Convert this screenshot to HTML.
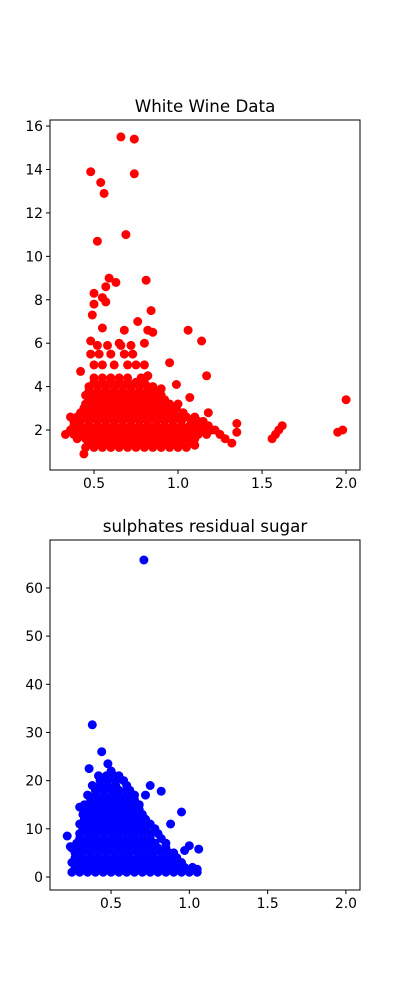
<!DOCTYPE html>
<html><head><meta charset="utf-8"><style>
body{margin:0;background:#fff;}
svg text{font-family:"DejaVu Sans","Liberation Sans",sans-serif;}
</style></head><body>
<svg id="chart" width="400" height="1000" xmlns="http://www.w3.org/2000/svg">
<rect width="400" height="1000" fill="#fff"/>
</svg>
<script>
// ---- Top chart data ----
const redOutX = [0.66,0.74,0.48,0.54,0.56,0.74,0.69,0.52,0.59,0.63,0.81,0.57,0.50,0.55,0.84,0.49,0.76,0.57,0.50,0.55,0.68,0.82,1.06,1.14,0.48,0.65,0.80,0.95,1.17,0.42,0.82,0.99,1.07,1.18,1.35,1.35,1.32,1.56,1.60,1.62,1.58,1.95,1.98,2.00,0.33,0.36,0.44,1.25,1.28,1.22,1.10,1.12,0.85,0.90];
const redOutY = [15.5,15.4,13.9,13.4,12.9,13.8,11.0,10.7,9.0,8.8,8.9,8.6,8.3,8.1,7.5,7.3,7.0,7.9,7.8,6.7,6.6,6.6,6.6,6.1,6.1,6.0,6.0,5.1,4.5,4.7,4.5,4.1,3.5,2.8,2.3,1.9,1.4,1.6,2.0,2.2,1.8,1.9,2.0,3.4,1.8,2.6,0.9,1.8,1.6,2.0,1.3,2.4,6.5,3.9];
const redRowY = [1.2,1.4,1.6,1.8,2.0,2.2,2.4,2.6,2.8,3.0,3.2,3.4,3.6,3.8,4.0,4.2,4.4,5.0,5.5,5.9];
const redRowX = [
 [0.45,0.5,0.55,0.6,0.65,0.7,0.75,0.8,0.85,0.9,0.95,1.0,1.05],
 [0.47,0.52,0.57,0.62,0.67,0.72,0.77,0.82,0.87,0.92,0.97,1.02,1.07],
 [0.40,0.45,0.5,0.55,0.6,0.65,0.7,0.75,0.8,0.85,0.9,0.95,1.0,1.05,1.1],
 [0.38,0.42,0.47,0.52,0.57,0.62,0.67,0.72,0.77,0.82,0.87,0.92,0.97,1.02,1.07,1.12,1.17],
 [0.36,0.4,0.45,0.5,0.55,0.6,0.65,0.7,0.75,0.8,0.85,0.9,0.95,1.0,1.05,1.1,1.15,1.2],
 [0.38,0.42,0.47,0.52,0.57,0.62,0.67,0.72,0.77,0.82,0.87,0.92,0.97,1.02,1.07,1.12,1.18],
 [0.38,0.42,0.47,0.52,0.57,0.62,0.67,0.72,0.77,0.82,0.87,0.92,0.97,1.02,1.08,1.15],
 [0.40,0.45,0.5,0.55,0.6,0.65,0.7,0.75,0.8,0.85,0.9,0.95,1.0,1.05,1.1],
 [0.42,0.47,0.52,0.57,0.62,0.67,0.72,0.77,0.82,0.87,0.92,0.97,1.03],
 [0.44,0.49,0.54,0.59,0.64,0.69,0.74,0.79,0.84,0.89,0.94,0.99],
 [0.45,0.5,0.55,0.6,0.65,0.7,0.75,0.8,0.85,0.9,0.95,1.0],
 [0.47,0.52,0.57,0.62,0.67,0.72,0.77,0.82,0.87,0.92],
 [0.45,0.5,0.55,0.6,0.65,0.7,0.75,0.8,0.85,0.9],
 [0.47,0.52,0.57,0.62,0.67,0.72,0.77,0.82,0.87],
 [0.47,0.52,0.57,0.62,0.67,0.72,0.77,0.82,0.85],
 [0.5,0.55,0.6,0.65,0.7,0.75,0.8],
 [0.5,0.55,0.6,0.65,0.7,0.78],
 [0.5,0.55,0.62,0.7,0.75,0.8],
 [0.48,0.53,0.6,0.68,0.73],
 [0.52,0.58,0.66,0.72]
];
const topXTicks = [0.5,1.0,1.5,2.0];
const topXLabels = ["0.5","1.0","1.5","2.0"];
const topYTicks = [2,4,6,8,10,12,14,16];

// ---- Bottom chart data ----
const blueOutX = [0.71,0.38,0.44,0.48,0.36,0.95,0.82,0.75,0.88,1.0,0.97,1.06,1.05,0.22,0.24,0.9,0.95,0.72,0.30,0.5,0.55];
const blueOutY = [65.8,31.6,26.0,23.5,22.5,13.5,17.8,19.0,11.0,6.5,5.5,5.8,1.6,8.5,6.3,2.0,1.5,17.0,14.5,22.0,21.0];
const blueRowY = [1,2,3,4,5,6,7,8,9,10,11,12,13,14,15,16,17,18,19,20,21];
const blueRowX = [
 [0.25,0.3,0.35,0.4,0.45,0.5,0.55,0.6,0.65,0.7,0.75,0.8,0.85,0.9,0.95,1.0,1.05],
 [0.27,0.32,0.37,0.42,0.47,0.52,0.57,0.62,0.67,0.72,0.77,0.82,0.87,0.92,0.97,1.02],
 [0.25,0.3,0.35,0.4,0.45,0.5,0.55,0.6,0.65,0.7,0.75,0.8,0.85,0.9,0.95],
 [0.27,0.32,0.37,0.42,0.47,0.52,0.57,0.62,0.67,0.72,0.77,0.82,0.87,0.92],
 [0.27,0.32,0.37,0.42,0.47,0.52,0.57,0.62,0.67,0.72,0.77,0.82,0.87,0.9],
 [0.25,0.3,0.35,0.4,0.45,0.5,0.55,0.6,0.65,0.7,0.75,0.8,0.85],
 [0.28,0.33,0.38,0.43,0.48,0.53,0.58,0.63,0.68,0.73,0.78,0.85],
 [0.3,0.35,0.4,0.45,0.5,0.55,0.6,0.65,0.7,0.75,0.82],
 [0.3,0.35,0.4,0.45,0.5,0.55,0.6,0.65,0.7,0.75,0.8],
 [0.32,0.37,0.42,0.47,0.52,0.57,0.62,0.67,0.72,0.78],
 [0.3,0.35,0.4,0.45,0.5,0.55,0.6,0.65,0.7,0.75],
 [0.33,0.38,0.43,0.48,0.53,0.58,0.63,0.68,0.72],
 [0.32,0.37,0.42,0.47,0.52,0.57,0.62,0.67,0.7],
 [0.35,0.4,0.45,0.5,0.55,0.6,0.65,0.68],
 [0.33,0.38,0.43,0.48,0.53,0.58,0.63,0.68],
 [0.37,0.42,0.47,0.52,0.57,0.62,0.65],
 [0.35,0.4,0.45,0.5,0.55,0.6,0.65],
 [0.4,0.45,0.5,0.55,0.6,0.62],
 [0.38,0.43,0.48,0.53,0.6],
 [0.43,0.48,0.53,0.58],
 [0.42,0.47,0.52]
];
const botXTicks = [0.5,1.0,1.5,2.0];
const botXLabels = ["0.5","1.0","1.5","2.0"];
const botYTicks = [0,10,20,30,40,50,60];

const NS = "http://www.w3.org/2000/svg";
const svg = document.getElementById('chart');
function mk(tag, attrs, parent){
  const e = document.createElementNS(NS, tag);
  for (const k in attrs) e.setAttribute(k, attrs[k]);
  (parent||svg).appendChild(e);
  return e;
}

function drawPanel(o){
  const L=50,R=360,T=o.top,B=o.top+350;
  const sx = v => L + (v - o.xmin) / (o.xmax - o.xmin) * (R - L);
  const sy = v => B - (v - o.ymin) / (o.ymax - o.ymin) * (B - T);
  const g = mk('g', {});
  
  
  const t = mk('text', {x:205, y:T-8, 'text-anchor':'middle', 'font-size':16.7, fill:'#000'}, g);
  t.textContent = o.title;
  
  
  const pts = mk('g', {fill:o.color}, g);
  
  
  const dot = (x,y) => {
    const c = mk('circle', {cx:sx(x).toFixed(1), cy:sy(y).toFixed(1), r:4.5}, pts);
    
    
  };
  o.rowY.forEach((y,i) => o.rowX[i].forEach(x => dot(x,y)));
  o.outX.forEach((x,i) => dot(x, o.outY[i]));
  const frame = mk('rect', {x:L, y:T, width:R-L, height:B-T, fill:'none', stroke:'#000', 'stroke-width':1}, g);
  
  
  o.xTicks.forEach((v,i) => {
    const x = sx(v);
    mk('line', {x1:x, x2:x, y1:B, y2:B+4, stroke:'#000'}, g);
    const l = mk('text', {x:x, y:B+18, 'text-anchor':'middle', 'font-size':13.9}, g);
    l.textContent = o.xLabels[i];
    
    
  });
  o.yTicks.forEach(v => {
    const y = sy(v);
    mk('line', {x1:L-4, x2:L, y1:y, y2:y, stroke:'#000'}, g);
    const l = mk('text', {x:L-7, y:y+5, 'text-anchor':'end', 'font-size':13.9}, g);
    l.textContent = String(v);
    
    
  });
}

drawPanel({name:'white-wine-chart', title:'White Wine Data', top:120, color:'#ff0000',
  xmin:0.238, xmax:2.083, ymin:0.16, ymax:16.28,
  rowY:redRowY, rowX:redRowX, outX:redOutX, outY:redOutY,
  xTicks:topXTicks, xLabels:topXLabels, yTicks:topYTicks});
drawPanel({name:'sulphates-chart', title:'sulphates residual sugar', top:540, color:'#0000ff',
  xmin:0.11, xmax:2.09, ymin:-2.7, ymax:69.95,
  rowY:blueRowY, rowX:blueRowX, outX:blueOutX, outY:blueOutY,
  xTicks:botXTicks, xLabels:botXLabels, yTicks:botYTicks});
</script>
</body></html>
